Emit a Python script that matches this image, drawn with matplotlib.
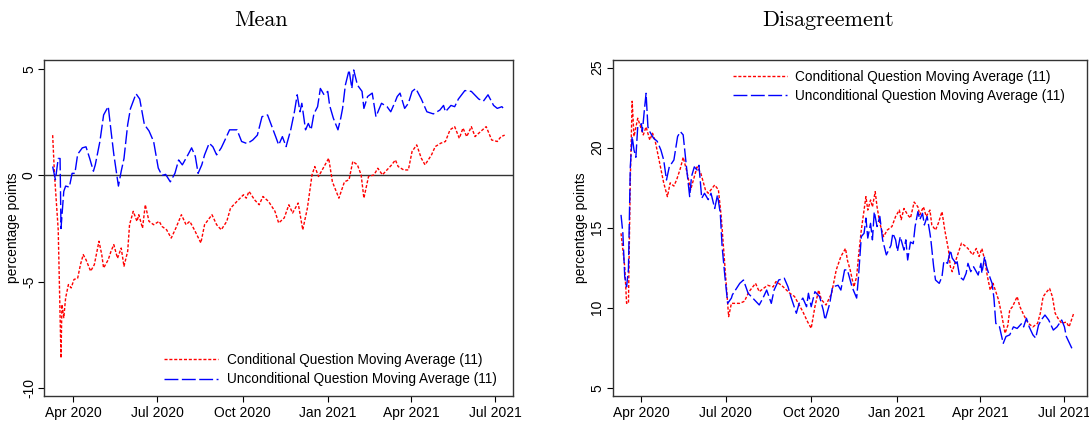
import numpy as np
import matplotlib
matplotlib.use('Agg')
import matplotlib.pyplot as plt

plt.rcParams['font.family'] = ['Liberation Sans', 'DejaVu Sans']
plt.rcParams['axes.unicode_minus'] = False

# days counted from 1 Apr 2020
base = np.datetime64('2020-04-01')

# --- Mean panel ---
mean_cond_days = [-22, -20, -16, -13, -12, -10, -8, -5, -2, 1, 5, 8, 11, 14, 19, 23, 28, 31, 33, 38,
                  41, 44, 48, 52, 55, 59, 61, 65, 69, 71, 75, 78, 82, 87, 93, 96, 101, 106, 111, 117,
                  122, 126, 131, 138, 142, 150, 155, 160, 166, 170, 177, 184, 187, 190, 196, 201, 205, 211, 218, 222,
                  228, 233, 237, 243, 248, 253, 258, 261, 265, 270, 276, 280, 287, 293, 298, 302, 307, 311, 314, 319,
                  325, 329, 334, 344, 348, 351, 357, 362, 366, 371, 376, 380, 387, 391, 397, 402, 407, 412, 417, 421,
                  425, 430, 434, 440, 446, 452, 458, 462, 466]
mean_cond = [1.9, 0.03, -2.56, -8.6, -6.08, -6.7, -5.77, -5.14, -5.3, -4.9, -4.84, -4.2, -3.73, -3.97, -4.51, -4.2, -3.1, -3.73, -4.36, -3.97,
             -3.57, -3.26, -3.9, -3.42, -4.28, -3.57, -2.32, -1.69, -2.16, -1.85, -2.48, -1.38, -2.16, -2.32, -2.16, -2.4, -2.56, -2.95, -2.48, -1.85,
             -2.32, -2.16, -2.56, -3.18, -2.32, -1.85, -2.32, -2.56, -2.16, -1.54, -1.22, -0.91, -1.07, -0.75, -1.15, -1.38, -0.99, -1.22, -1.69, -2.24,
             -2.0, -1.38, -1.77, -1.3, -2.56, -1.54, 0.03, 0.42, -0.05, 0.34, 0.81, -0.3, -1.07, -0.3, -0.2, 0.66, 0.5, 0.03, -1.07, -0.05,
             0.03, 0.34, 0.03, 0.5, 0.73, 0.42, 0.26, 0.26, 1.13, 1.44, 0.81, 0.5, 0.97, 1.36, 1.52, 1.6, 2.15, 2.3, 1.75, 2.23,
             1.83, 2.3, 1.83, 2.07, 2.3, 1.67, 1.6, 1.83, 1.9]

mean_uncond_days = [-22, -19, -16, -14, -13, -10, -8, -4, -1, 2, 5, 10, 14, 18, 22, 24, 29, 33, 38, 41,
                    44, 49, 52, 55, 59, 62, 68, 72, 77, 82, 87, 92, 96, 100, 105, 110, 114, 118, 124, 128,
                    132, 135, 139, 142, 147, 151, 155, 160, 164, 169, 177, 182, 188, 194, 199, 204, 210, 216, 219, 222,
                    226, 230, 235, 239, 242, 245, 247, 251, 254, 257, 260, 264, 267, 271, 275, 277, 281, 286, 289, 291,
                    294, 298, 301, 303, 307, 312, 314, 318, 323, 327, 333, 339, 343, 348, 350, 353, 358, 362, 366, 370,
                    376, 382, 389, 396, 400, 402, 408, 412, 416, 423, 430, 438, 443, 448, 454, 458, 463, 466]
mean_uncond = [0.42, -0.2, 0.8, 0.8, -2.5, -0.75, -0.5, -0.55, 0.1, 0.1, 1.0, 1.3, 1.35, 0.8, 0.2, 0.5, 1.6, 2.85, 3.25, 2.1,
               1.0, -0.5, 0.2, 0.8, 2.4, 3.15, 3.85, 3.6, 2.4, 2.1, 1.6, 0.35, 0.0, 0.05, -0.3, 0.1, 0.73, 0.5, 0.97, 1.3,
               0.9, 0.1, 0.5, 0.97, 1.52, 1.35, 0.97, 1.3, 1.67, 2.15, 2.15, 1.6, 1.5, 1.67, 1.9, 2.77, 2.85, 2.15, 1.8, 1.44,
               1.83, 1.36, 2.15, 3.0, 3.8, 3.0, 3.4, 2.15, 2.45, 2.15, 2.9, 3.24, 4.1, 3.8, 3.96, 3.3, 2.7, 2.15, 2.7, 3.16,
               4.26, 4.97, 4.1, 4.97, 4.26, 3.96, 3.16, 3.72, 3.88, 2.77, 3.4, 3.24, 3.0, 3.5, 3.72, 3.88, 3.16, 3.4, 3.96, 4.1,
               3.6, 3.0, 2.9, 3.08, 3.3, 3.0, 3.3, 3.24, 3.6, 4.0, 3.96, 3.6, 3.5, 3.8, 3.3, 3.16, 3.24, 3.08]

# --- Disagreement panel ---
dis_cond_days = [-22, -18, -16, -14, -12, -10, -8, -4, -2, 2, 5, 9, 12, 15, 19, 24, 28, 31, 35, 38,
                 42, 45, 49, 53, 60, 64, 69, 72, 79, 83, 86, 90, 94, 97, 106, 111, 116, 123, 127, 136,
                 142, 145, 151, 160, 165, 170, 174, 179, 183, 187, 191, 194, 199, 205, 210, 215, 220, 222, 225, 229,
                 232, 234, 237, 239, 242, 244, 247, 249, 252, 254, 257, 261, 265, 270, 274, 278, 280, 283, 287, 290,
                 294, 298, 300, 304, 307, 311, 313, 317, 320, 324, 327, 331, 333, 335, 339, 342, 345, 348, 352, 357,
                 361, 364, 367, 370, 373, 376, 379, 385, 388, 392, 395, 397, 400, 405, 408, 413, 417, 422, 427, 430,
                 433, 437, 440, 443, 446, 449, 453, 458, 461, 466]
dis_cond = [14.65, 12.56, 10.27, 10.27, 17.98, 22.9, 20.7, 21.84, 21.5, 20.8, 21.3, 20.48, 20.9, 20.37, 19.23, 17.8, 16.94, 17.8, 17.6, 18.0,
            18.71, 19.4, 18.5, 17.36, 18.8, 18.4, 17.36, 17.15, 17.67, 17.36, 15.7, 12.56, 9.44, 10.27, 10.27, 10.4, 11.0, 11.52, 11.0, 11.4,
            11.3, 11.63, 11.4, 10.9, 10.7, 10.17, 9.75, 9.13, 8.71, 10.06, 11.1, 10.5, 10.17, 10.9, 12.36, 13.2, 13.7, 12.98, 12.36, 11.3,
            11.94, 13.2, 14.85, 15.7, 16.94, 16.1, 16.73, 16.3, 17.25, 16.3, 15.27, 14.44, 14.85, 15.07, 15.7, 16.1, 15.5, 16.2, 15.8, 15.6,
            16.6, 16.3, 15.8, 16.3, 15.7, 16.1, 15.17, 14.85, 15.27, 16.0, 14.85, 13.6, 12.56, 12.25, 12.98, 13.5, 14.03, 13.9, 13.7, 13.3,
            13.7, 13.2, 13.7, 12.98, 11.94, 11.1, 11.52, 10.48, 9.65, 8.4, 8.9, 9.86, 10.06, 10.69, 10.06, 9.44, 9.02, 8.8, 9.02, 9.65,
            10.69, 11.0, 11.2, 10.69, 9.65, 9.34, 9.02, 9.1, 8.8, 9.65]

dis_uncond_days = [-22, -20, -18, -16, -14, -12, -10, -8, -6, -4, 0, 1, 3, 5, 7, 9, 13, 17, 21, 24,
                   27, 30, 35, 39, 42, 45, 48, 52, 54, 57, 60, 62, 65, 68, 72, 75, 79, 82, 85, 87,
                   90, 93, 97, 98, 106, 110, 115, 120, 127, 131, 135, 140, 143, 148, 154, 158, 161, 167, 170, 174,
                   178, 180, 183, 187, 192, 196, 198, 203, 206, 212, 215, 219, 222, 227, 232, 234, 237, 240, 242, 244,
                   247, 249, 251, 254, 257, 260, 264, 269, 271, 274, 276, 279, 283, 285, 287, 290, 293, 295, 298, 300,
                   303, 305, 308, 311, 312, 315, 317, 321, 324, 326, 330, 333, 335, 339, 340, 343, 347, 350, 352, 355,
                   358, 363, 366, 367, 370, 372, 376, 378, 380, 382, 386, 390, 393, 397, 401, 405, 410, 412, 415, 418,
                   422, 425, 428, 431, 435, 439, 444, 448, 453, 456, 458, 464]
dis_uncond = [15.8, 14.65, 11.94, 11.3, 12.4, 18.8, 20.7, 19.85, 19.4, 21.3, 21.5, 21.0, 22.25, 23.4, 21.3, 21.0, 20.6, 20.4, 19.85, 19.23,
              17.98, 18.8, 19.23, 20.7, 21.0, 20.8, 19.1, 16.94, 18.2, 18.8, 18.6, 18.9, 16.84, 17.15, 16.75, 17.15, 16.2, 17.05, 15.9, 13.8,
              11.94, 10.27, 10.6, 10.8, 11.52, 11.73, 10.9, 10.6, 10.17, 10.6, 11.1, 10.27, 11.1, 11.73, 11.84, 11.3, 10.7, 9.65, 10.27, 10.6,
              10.06, 10.9, 10.06, 11.0, 10.7, 9.85, 9.23, 10.27, 11.3, 11.4, 11.1, 12.36, 12.36, 11.3, 10.6, 11.94, 14.44, 14.65, 15.6, 14.35,
              15.27, 14.24, 16.0, 15.07, 15.7, 14.24, 13.3, 13.9, 14.65, 14.24, 13.52, 14.44, 13.6, 14.24, 12.98, 14.1, 14.0, 15.07, 16.0, 15.5,
              15.9, 15.17, 15.7, 14.65, 14.24, 12.56, 11.73, 11.52, 11.94, 12.9, 12.77, 13.6, 13.1, 12.77, 12.98, 11.94, 11.73, 12.15, 12.77, 12.25,
              12.56, 12.04, 12.77, 12.15, 13.2, 12.56, 11.84, 11.52, 10.6, 9.02, 8.8, 7.77, 8.2, 8.3, 8.8, 8.7, 9.02, 8.8, 9.34, 8.8,
              8.3, 8.1, 8.9, 9.23, 9.54, 9.23, 8.6, 8.8, 9.23, 8.8, 8.2, 7.46]

tick_days = [0, 91, 183, 275, 365, 456]
tick_labels = ['Apr 2020', 'Jul 2020', 'Oct 2020', 'Jan 2021', 'Apr 2021', 'Jul 2021']

cond_label = 'Conditional Question Moving Average (11)'
uncond_label = 'Unconditional Question Moving Average (11)'


def to_dates(days):
    return base + np.array(days).astype('timedelta64[D]')


fig = plt.figure(figsize=(10.89, 4.21), dpi=100)
ax1 = fig.add_axes([0.0407, 0.0594, 0.4304, 0.7981])
ax2 = fig.add_axes([0.5626, 0.0594, 0.4353, 0.7981])

panels = [
    (ax1, mean_cond_days, mean_cond, mean_uncond_days, mean_uncond),
    (ax2, dis_cond_days, dis_cond, dis_uncond_days, dis_uncond),
]
for ax, cd, cv, ud, uv in panels:
    ax.plot(to_dates(cd), cv, color='#ff0000', lw=1.0, dashes=(2.2, 1.3), label=cond_label)
    ax.plot(to_dates(ud), uv, color='#0000ff', lw=1.0, dashes=(10, 2.5), label=uncond_label)
    ax.set_xticks(to_dates(tick_days))
    ax.set_xticklabels(tick_labels)
    ax.tick_params(axis='both', direction='out', length=4, width=0.8, labelsize=10, colors='black')
    ax.tick_params(axis='y', pad=2)
    for s in ax.spines.values():
        s.set_color('#333333')
        s.set_linewidth(1.0)
    ax.set_ylabel('percentage points', fontsize=10, labelpad=1.5)

ax1.axhline(0, color='#333333', lw=1.0, zorder=1)
ax1.set_xlim(to_dates([-31])[0], to_dates([475])[0])
ax1.set_ylim(-10.39, 5.44)
ax1.set_yticks([-10, -5, 0, 5])
ax1.set_yticklabels(['-10', '-5', '0', '5'], rotation=90, va='center')
ax1.legend(loc='lower right', frameon=False, fontsize=9.8, handlelength=4.0, handletextpad=0.6,
           bbox_to_anchor=(0.985, 0.0), borderaxespad=0.3, labelspacing=0.4)

ax2.set_xlim(to_dates([-31])[0], to_dates([480])[0])
ax2.set_ylim(4.48, 25.48)
ax2.set_yticks([5, 10, 15, 20, 25])
ax2.set_yticklabels(['5', '10', '15', '20', '25'], rotation=90, va='center')
ax2.legend(loc='upper right', frameon=False, fontsize=9.8, handlelength=4.0, handletextpad=0.6,
           bbox_to_anchor=(0.975, 1.0), borderaxespad=0.3, labelspacing=0.4)

fig.text(261 / 1089, 1 - 20 / 421, 'Mean', ha='center', va='center', fontsize=16, family='cmr10')
fig.text(828 / 1089, 1 - 20 / 421, 'Disagreement', ha='center', va='center', fontsize=16, family='cmr10')

fig.savefig('out.png', dpi=100)
